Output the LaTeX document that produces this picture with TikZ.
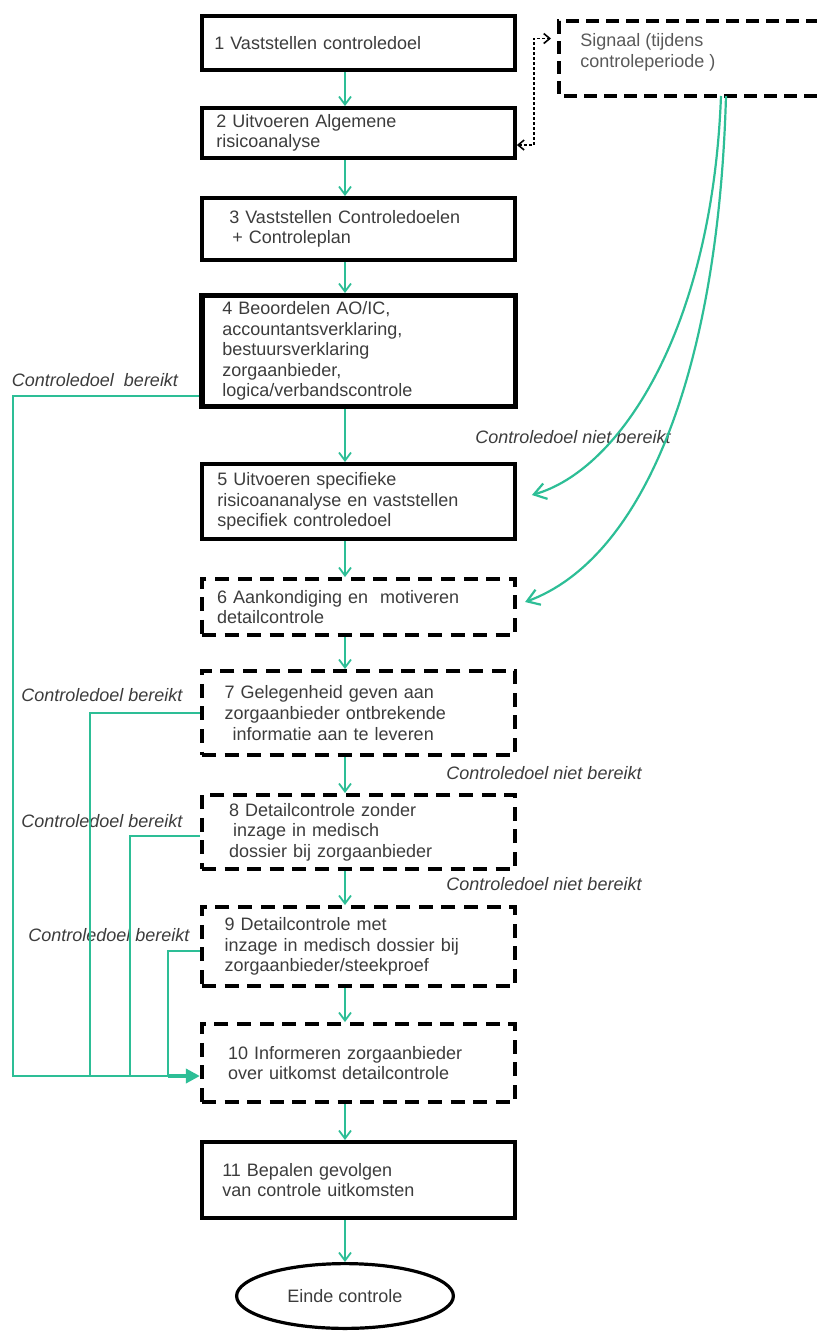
\documentclass[tikz,border=0pt]{standalone}
\usepackage{fontspec}
\setmainfont{Liberation Sans}
\usetikzlibrary{shapes.geometric, arrows.meta, positioning}
\definecolor{groen}{RGB}{45,190,150}
\definecolor{tekst}{RGB}{60,60,60}
\tikzstyle{block} = [rectangle, draw=black, line width=1.8pt, minimum width=156.6pt, inner ysep=1pt, align=left, text=tekst, font=\fontsize{9}{10.3}\selectfont]
\tikzstyle{dblock} = [block, line width=2pt, dash pattern=on 7pt off 4.3pt]
\tikzstyle{sigbox} = [black, line width=2pt, dash pattern=on 6.3pt off 3.7pt]
\tikzstyle{einde} = [ellipse, draw=black, line width=1.6pt, minimum width=108.4pt, minimum height=32.4pt, text=tekst, font=\fontsize{9}{10.3}\selectfont]
\tikzstyle{arrow} = [groen, line width=0.9pt, -{Straight Barb[length=4pt,width=6pt]}]
\tikzstyle{back} = [groen, line width=1pt]
\tikzstyle{bigarrow} = [groen, line width=2pt, -{Triangle[length=7pt,width=7pt]}]
\tikzstyle{signal} = [groen, line width=1.1pt, -{Straight Barb[length=6pt,width=8pt]}]
\tikzstyle{dots} = [black, line width=0.8pt, dash pattern=on 1.5pt off 1pt, {Straight Barb[length=3pt,width=5pt]}-{Straight Barb[length=3pt,width=5pt]}]
\tikzstyle{note} = [text=tekst, font=\fontsize{9}{10.3}\selectfont\itshape]
\tikzset{indent/.style={inner xsep=#1, text width=156.6pt-2*#1}}

\begin{document}
\begin{tikzpicture}[x=0.5pt, y=-0.5pt]
\useasboundingbox (0,0) rectangle (817,1335);
\clip (0,0) rectangle (817,1335);

% main column
\node (b1) [block, indent=6.2pt, minimum height=27.2pt] at (358.5,43) {1 Vaststellen controledoel};
\node (b2) [block, indent=7.2pt, minimum height=25.2pt, below=17pt of b1] {2 Uitvoeren Algemene\\risicoanalyse};
\node (b3) [block, indent=13.7pt, minimum height=31.2pt, below=18pt of b2] {3 Vaststellen Controledoelen\\\hspace*{1.5pt}+ Controleplan};
\node (b4) [block, line width=2.6pt, indent=10.2pt, minimum height=55.4pt, below=15.5pt of b3] {4 Beoordelen AO/IC,\\accountantsverklaring,\\bestuursverklaring\\zorgaanbieder,\\logica/verbandscontrole};
\node (b5) [block, indent=7.7pt, minimum height=37.7pt, below=26.5pt of b4] {5 Uitvoeren specifieke\\risicoananalyse en vaststellen\\specifiek controledoel};
\node (b6) [dblock, indent=7.6pt, minimum height=28pt, below=18pt of b5] {6 Aankondiging en\ \ motiveren\\detailcontrole};
\node (b7) [dblock, indent=11.4pt, minimum height=42pt, below=16pt of b6] {7 Gelegenheid geven aan\\zorgaanbieder ontbrekende\\\hspace*{4pt}informatie aan te leveren};
\node (b8) [dblock, indent=13.6pt, minimum height=37pt, below=18pt of b7] {8 Detailcontrole zonder\\\hspace*{2pt}inzage in medisch\\dossier bij zorgaanbieder};
\node (b9) [dblock, indent=11.4pt, minimum height=39.5pt, below=17pt of b8] {9 Detailcontrole met\\inzage in medisch dossier bij\\zorgaanbieder/steekproef};
\node (b10) [dblock, indent=13.1pt, minimum height=39pt, below=17pt of b9] {10 Informeren zorgaanbieder\\over uitkomst detailcontrole};
\node (b11) [block, indent=10.2pt, minimum height=38.2pt, below=18pt of b10] {11 Bepalen gevolgen\\van controle uitkomsten};
\node (einde) [einde, below=21pt of b11, xshift=-6.75pt] {Einde controle};

% signal box, open to the right
\node (sig) [rectangle, minimum width=180pt, minimum height=37.5pt, inner sep=0pt, outer sep=0pt] at (739,58.5) {};
\draw [sigbox] (sig.north east) -- (sig.north west) -- (sig.south west) -- (sig.south east);
\node (sigtxt) [anchor=north west, align=left, inner sep=0pt, text=tekst!85, font=\fontsize{9}{10.3}\selectfont] at ([shift={(10.5pt,-6pt)}]sig.north west) {Signaal (tijdens\\controleperiode )};

% labels
\node (l4) [note] at (95,380) {Controledoel\ \ bereikt};
\node (l7) [note] at (102,695) {Controledoel bereikt};
\node (l8) [note] at (102,821) {Controledoel bereikt};
\node (l9) [note] at (109,935) {Controledoel bereikt};
\node (n5) [note] at (573,437) {Controledoel niet bereikt};
\node (n8) [note] at (544,773) {Controledoel niet bereikt};
\node (n9) [note] at (544,884) {Controledoel niet bereikt};

% flow
\coordinate (axis) at (345,0);
\draw [arrow] (b1.south -| axis) -- (b2.north -| axis);
\draw [arrow] (b2.south -| axis) -- (b3.north -| axis);
\draw [arrow] (b3.south -| axis) -- (b4.north -| axis);
\draw [arrow] (b4.south -| axis) -- (b5.north -| axis);
\draw [arrow] (b5.south -| axis) -- (b6.north -| axis);
\draw [arrow] (b6.south -| axis) -- (b7.north -| axis);
\draw [arrow] (b7.south -| axis) -- (b8.north -| axis);
\draw [arrow] (b8.south -| axis) -- (b9.north -| axis);
\draw [arrow] (b9.south -| axis) -- (b10.north -| axis);
\draw [arrow] (b10.south -| axis) -- (b11.north -| axis);
\draw [arrow] (b11.south -| axis) -- (einde.north);

% signal links
\draw [dots] ([yshift=-6pt]b2.east) -- ++(8.5pt,0) |- ([xshift=-4pt,yshift=10pt]sig.west);
\draw [signal] ([xshift=-9pt]sig.south) .. controls (712,330) and (620,470) .. ([xshift=7.5pt,yshift=3.25pt]b5.east);
\draw [signal] ([xshift=-6.5pt]sig.south) .. controls (718,380) and (640,560) .. ([xshift=4pt,yshift=2.5pt]b6.east);

% controledoel bereikt
\coordinate (tgt) at ([yshift=-6.5pt]b10.west);
\coordinate (c4) at (13,0);
\coordinate (c7) at (90,0);
\coordinate (c8) at (130,0);
\coordinate (c9) at (168,0);
\draw [back] ([yshift=-22.5pt]b4.west) -| (tgt -| c4) -- (tgt -| c9);
\draw [back] (b7.west) -| (tgt -| c7);
\draw [back] ([yshift=-2pt]b8.west) -| (tgt -| c8);
\draw [back] ([yshift=-2pt]b9.west) -| (tgt -| c9);
\draw [bigarrow] (tgt -| c9) -- (tgt);
\end{tikzpicture}
\end{document}
